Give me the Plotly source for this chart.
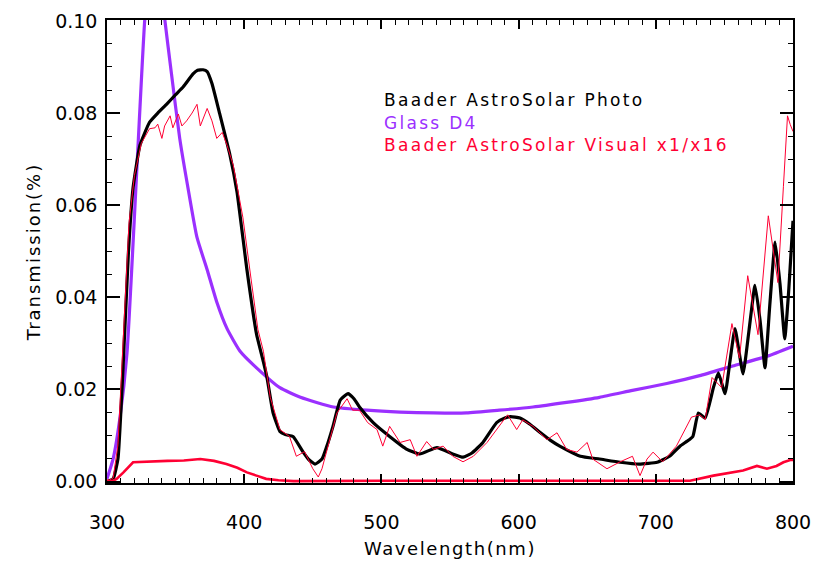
import plotly.graph_objects as go

# Baader AstroSolar Photo (black)
photo_wl = [300, 304.5, 308, 311.7, 315.6, 319, 324, 331, 337, 343.7, 350, 355.6, 362.7, 366, 370, 373,
            376.5, 382, 389.6, 394.7, 402, 409, 414, 416.6, 421, 426, 430, 435.6, 443, 447, 451.6, 456.7,
            460, 464.7, 470, 475.7, 480, 484, 494, 506, 518.6, 528, 540.5, 552, 559.5, 566, 574, 584, 590,
            594, 601, 608, 616, 623, 630, 645, 659, 674, 688, 701, 710, 717.6, 723, 727, 731, 736, 742,
            745.6, 750.5, 754, 757.7, 763.6, 768, 772.3, 776, 779.6, 783, 787, 790.5, 794, 797, 800]
photo_t = [0.0, 0.0006, 0.005, 0.0247, 0.0496, 0.0638, 0.073, 0.078, 0.080, 0.082, 0.084, 0.0857, 0.0885,
           0.0893, 0.0894, 0.089, 0.0864, 0.080, 0.0709, 0.063, 0.046, 0.032, 0.026, 0.0226, 0.015, 0.0109,
           0.0102, 0.0098, 0.0064, 0.0048, 0.0038, 0.0049, 0.0075, 0.012, 0.0177, 0.0191, 0.018, 0.0162,
           0.0128, 0.0098, 0.007, 0.006, 0.0074, 0.006, 0.0053, 0.0062, 0.0085, 0.0128, 0.0138, 0.0141,
           0.0138, 0.0125, 0.0106, 0.009, 0.0077, 0.0055, 0.0049, 0.0042, 0.0038, 0.0042, 0.0055, 0.0077,
           0.0088, 0.0098, 0.0149, 0.0138, 0.0204, 0.0236, 0.0191, 0.026, 0.0332, 0.0234, 0.033, 0.0426,
           0.035, 0.0247, 0.038, 0.052, 0.043, 0.031, 0.042, 0.0566]

# Glass D4 (purple)
glass_wl = [300, 304.5, 309.5, 314.6, 318, 321.6, 325.3, 327.6, 331, 335, 338, 342, 347, 353, 359, 365.6,
            373, 380, 387.5, 397, 409, 426, 441, 465, 489.5, 513.6, 538, 562, 586, 610.5, 635, 659, 683,
            708, 732, 756, 781, 800]
glass_t = [0.0006, 0.005, 0.014, 0.028, 0.046, 0.067, 0.0885, 0.1006, 0.110, 0.113, 0.111, 0.1006, 0.0885,
           0.0745, 0.0638, 0.053, 0.046, 0.039, 0.0332, 0.0283, 0.0247, 0.0204, 0.0183, 0.0162, 0.0155,
           0.0151, 0.0149, 0.0149, 0.0155, 0.0162, 0.0172, 0.0183, 0.0198, 0.0213, 0.023, 0.0251, 0.0272,
           0.0294]

# Baader AstroSolar Visual x16 (thin red)
vis16_wl = [300, 304.5, 308, 313, 316, 320, 325, 331, 335, 337, 340, 342, 346, 348, 352, 354.6, 358, 362,
            365.6, 368, 373, 376.5, 380, 384, 387.5, 392, 399, 405, 410, 414, 419, 426, 433, 438, 444, 450,
            454, 456.7, 461, 467.6, 475, 479, 484, 490, 496.8, 501, 506, 513.6, 521, 525.9, 533, 538, 545,
            552, 559.5, 567, 577, 586, 592, 598.6, 603, 610.5, 620.7, 628, 635, 642.5, 650, 654, 664.4, 674,
            683, 688.5, 693.6, 698, 705, 715, 726, 732, 736, 741, 748, 755.5, 761, 767, 774.5, 782, 789, 793,
            796, 798, 800]
vis16_t = [0.0, 0.0008, 0.008, 0.039, 0.056, 0.0665, 0.0734, 0.0766, 0.0768, 0.0776, 0.0745, 0.0772,
           0.0794, 0.0768, 0.0798, 0.0772, 0.0783, 0.080, 0.0819, 0.0772, 0.081, 0.0783, 0.0745, 0.0758,
           0.073, 0.0687, 0.0574, 0.044, 0.033, 0.0283, 0.0183, 0.0113, 0.0098, 0.0055, 0.0065, 0.0028,
           0.001, 0.0028, 0.0075, 0.0149, 0.018, 0.0155, 0.0155, 0.0128, 0.0113, 0.0077, 0.012, 0.0085,
           0.0091, 0.0055, 0.0087, 0.007, 0.0077, 0.0055, 0.0043, 0.0055, 0.0085, 0.012, 0.0145, 0.0113,
           0.0134, 0.012, 0.0091, 0.0106, 0.007, 0.0064, 0.0085, 0.0049, 0.0028, 0.0043, 0.0055, 0.0013,
           0.0049, 0.0064, 0.0043, 0.0077, 0.014, 0.0145, 0.0135, 0.0226, 0.0204, 0.0343, 0.0268, 0.0447,
           0.0319, 0.0577, 0.0432, 0.064, 0.0794, 0.0775, 0.076]

# Baader AstroSolar Visual x1 (thick red)
vis1_wl = [300, 303, 307, 312, 319, 331, 344, 356, 368, 378, 387, 395, 402, 409, 416, 425, 436, 500, 600,
           700, 725, 742, 754, 763.6, 773.7, 781, 788, 793, 798, 800]
vis1_t = [0.0003, 0.0, 0.0006, 0.002, 0.0042, 0.0044, 0.0045, 0.0046, 0.0049, 0.0045, 0.0038, 0.003, 0.002,
          0.0013, 0.0006, 0.0003, 0.0001, 0.0002, 0.0002, 0.0001, 0.0002, 0.0013, 0.002, 0.0024, 0.0034,
          0.0028, 0.0034, 0.0042, 0.0047, 0.0047]

x_range = [300, 800]
y_range = [-0.0003, 0.1002]
x_tick_start, x_tick_step, x_minor_step = 300, 100, 10
y_tick_start, y_tick_step, y_minor_step = 0.0, 0.02, 0.005

x_title = "Wavelength(nm)"
y_title = "Transmission(%)"
legend_labels = ["Baader AstroSolar Photo", "Glass D4", "Baader AstroSolar Visual x1/x16"]
legend_colors = ["#000000", "#9B30FF", "#FF0033"]

PURPLE = "#9B30FF"
RED = "#FF0033"
font = "DejaVu Sans"


def spaced(s, px):
    return '<span style="letter-spacing:%spx">%s</span>' % (px, s)


fig = go.Figure()
fig.add_trace(go.Scatter(x=glass_wl, y=glass_t, mode="lines",
                         line=dict(color=PURPLE, width=3.2, shape="spline", smoothing=0.5)))
fig.add_trace(go.Scatter(x=photo_wl, y=photo_t, mode="lines",
                         line=dict(color="black", width=3.2, shape="spline", smoothing=0.4)))
fig.add_trace(go.Scatter(x=vis16_wl, y=vis16_t, mode="lines", line=dict(color=RED, width=1)))
fig.add_trace(go.Scatter(x=vis1_wl, y=vis1_t, mode="lines", line=dict(color=RED, width=2.6)))
# invisible helper trace so the label axis is drawn
fig.add_trace(go.Scatter(x=[x_range[0]], y=[y_range[0]], xaxis="x2", mode="markers",
                         marker=dict(opacity=0), hoverinfo="skip"))

fig.update_layout(
    width=821, height=567,
    margin=dict(l=107, r=28, t=10, b=84),
    paper_bgcolor="white", plot_bgcolor="white",
    showlegend=False,
    xaxis=dict(
        range=x_range, tickmode="linear", tick0=x_tick_start, dtick=x_tick_step,
        showgrid=False, zeroline=False, showline=True, linecolor="black", linewidth=1.5,
        mirror="ticks", ticks="inside", ticklen=9, tickwidth=1.5, tickcolor="black",
        showticklabels=False,
        minor=dict(dtick=x_minor_step, ticks="inside", ticklen=5, tickwidth=1, tickcolor="black"),
    ),
    # label-only axis: transparent outside ticks push the labels down
    xaxis2=dict(
        overlaying="x", anchor="y", side="bottom", matches="x",
        tickmode="linear", tick0=x_tick_start, dtick=x_tick_step,
        showgrid=False, zeroline=False, showline=False,
        ticks="outside", ticklen=22, tickcolor="rgba(0,0,0,0)",
        tickfont=dict(family=font, size=19, color="black"),
        title=dict(text=spaced(x_title, 1.6), standoff=10,
                   font=dict(family=font, size=18, color="black")),
    ),
    yaxis=dict(
        range=y_range, tickmode="linear", tick0=y_tick_start, dtick=y_tick_step, tickformat=".2f",
        showgrid=False, zeroline=False, showline=True, linecolor="black", linewidth=1.5,
        mirror="ticks", ticks="inside", ticklen=13, tickwidth=1.5, tickcolor="black",
        ticklabelstandoff=4, tickfont=dict(family=font, size=19, color="black"),
        minor=dict(dtick=y_minor_step, ticks="inside", ticklen=5, tickwidth=1, tickcolor="black"),
        title=dict(text=spaced(y_title, 2), standoff=10,
                   font=dict(family=font, size=18, color="black")),
    ),
)

for i, (lab, col) in enumerate(zip(legend_labels, legend_colors)):
    fig.add_annotation(text=spaced(lab, 2.3), xref="paper", yref="paper", x=0.401,
                       y=1 - (92 + 23 * i - 10) / 473,
                       xanchor="left", yanchor="middle", showarrow=False,
                       font=dict(family=font, size=17, color=col))

fig.write_html("out.html")
